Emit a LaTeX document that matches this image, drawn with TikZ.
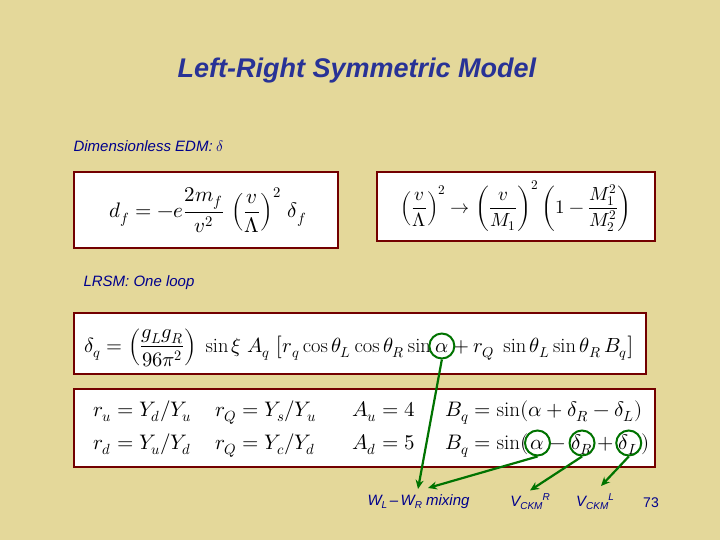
\documentclass[tikz,border=0pt]{standalone}
\usetikzlibrary{arrows.meta}
\usepackage{amsmath}
\usepackage{fontspec}
\setmainfont{Liberation Sans}
\usepackage{unicode-math}
\setmathfont{Latin Modern Math}
\setmathrm{Latin Modern Roman}
\setoperatorfont\mathrm
\newcommand{\lo}[1]{\raisebox{-3pt}{\fontsize{10}{11}\selectfont #1}}
\newcommand{\hi}[1]{\raisebox{6pt}{\fontsize{10}{11}\selectfont #1}}
\begin{document}
\begin{tikzpicture}[x=1pt,y=-1pt,
  eqbox/.style={draw=red!45!black,line width=2.5pt,fill=white},
  lbl/.style={text=blue!55!black,font=\itshape\fontsize{15}{17}\selectfont},
  m/.style={inner sep=0pt,font=\fontsize{21}{24}\selectfont},
  ring/.style={draw=green!45!black,line width=2pt,circle,minimum size=25pt,inner sep=0pt},
  garrow/.style={draw=green!45!black,line width=2.2pt,-{Stealth[length=9pt,width=8pt]}}]
\fill[fill={rgb,255:red,228;green,216;blue,154}] (0,0) rectangle (720,540);
\node[text={rgb,255:red,40;green,50;blue,150},font=\bfseries\itshape\fontsize{27}{30}\selectfont] (title) at (357,71) {Left-Right Symmetric Model};
\node[lbl,anchor=west] (dim) at (70,146) {Dimensionless EDM: $\delta$};
\node[lbl,anchor=west] (lrsm) at (80,283) {LRSM: One loop};
\draw[eqbox] (74,172) rectangle (338,248);
\node[m] (e1) at (208,210) {$d_f=-e\dfrac{2m_f}{v^2}\,\left(\dfrac{v}{\Lambda}\right)^{2}\,\delta_f$};
\draw[eqbox] (377,172) rectangle (655,241);
\node[m,font=\fontsize{19}{22}\selectfont] (e2) at (516,206) {$\left(\dfrac{v}{\Lambda}\right)^{2}\to\left(\dfrac{v}{M_1}\right)^{2}\left(1-\dfrac{M_1^2}{M_2^2}\right)$};
\draw[eqbox] (74,313) rectangle (646,374);
\node[m,font=\fontsize{20.5}{23}\selectfont,anchor=base west] (e3a) at (84,352) {$\delta_q=\left(\dfrac{g_Lg_R}{96\pi^2}\right)\ \sin\xi\;A_q\;\bigl[r_q\cos\theta_L\cos\theta_R\sin$};
\node[m,font=\fontsize{20.5}{23}\selectfont,anchor=base west] (e3b) at ([xshift=4pt]e3a.base east) {$\alpha$};
\node[m,font=\fontsize{20.5}{23}\selectfont,anchor=base west] (e3c) at ([xshift=5pt]e3b.base east) {$+\,r_Q\ \sin\theta_L\sin\theta_R\,B_q\bigr]$};
\draw[eqbox] (74,389) rectangle (655,467);
\node[m,anchor=base west] (r1a) at (93,416) {$r_u=Y_d/Y_u$};
\node[m,anchor=base west] (r1b) at (215,416) {$r_Q=Y_s/Y_u$};
\node[m,anchor=base west] (r1c) at (352,416) {$A_u=4$};
\node[m,anchor=base west] (r1d) at (445,416) {$B_q=\sin(\alpha+\delta_R-\delta_L)$};
\node[m,anchor=base west] (r2a) at (93,449) {$r_d=Y_u/Y_d$};
\node[m,anchor=base west] (r2b) at (215,449) {$r_Q=Y_c/Y_d$};
\node[m,anchor=base west] (r2c) at (352,449) {$A_d=5$};
\node[m,anchor=base west] (r2d) at (445,449) {$B_q=\sin($};
\node[m,anchor=base west] (r2e) at ([xshift=2pt]r2d.base east) {$\alpha$};
\node[m,anchor=base west] (r2f) at ([xshift=5pt]r2e.base east) {$-$};
\node[m,anchor=base west] (r2g) at ([xshift=5pt]r2f.base east) {$\delta_R$};
\node[m,anchor=base west] (r2h) at ([xshift=4pt]r2g.base east) {$+$};
\node[m,anchor=base west] (r2i) at ([xshift=5pt]r2h.base east) {$\delta_L$};
\node[m,anchor=base west] (r2j) at ([xshift=2pt]r2i.base east) {$)$};
\node[ring] (c1) at ([yshift=6pt]e3b.base) {};
\node[ring] (c2) at ([yshift=6pt]r2e.base) {};
\node[ring] (c3) at ([yshift=6pt]r2g.base) {};
\node[ring] (c4) at ([yshift=6pt]r2i.base) {};
\node[lbl,anchor=west] (wl) at (364,502) {W\lo{L}\,–\,W\lo{R} mixing};
\node[lbl] (vr) at (530,502) {V\lo{CKM}\hi{R}};
\node[lbl] (vl) at (595,502) {V\lo{CKM}\hi{L}};
\node[text=blue!55!black,font=\fontsize{14}{16}\selectfont] (pg) at (651,503) {73};
\coordinate (t1) at (418,489);
\coordinate (t2) at (428,488);
\coordinate (t4) at (601,486);
\draw[garrow] (c1.south) -- (t1);
\draw[garrow] (c2.south) -- (t2);
\draw[garrow] (c3.south) -- (vr.north);
\draw[garrow] (c4.south) -- (t4);
\end{tikzpicture}
\end{document}
